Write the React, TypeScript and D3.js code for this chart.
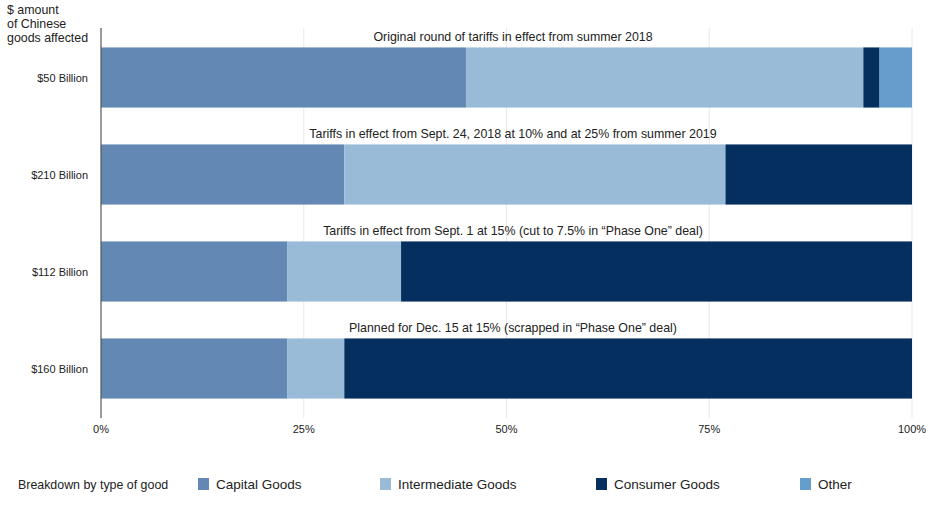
import React from "react";
import * as d3 from "d3";

const categories = ["$50 Billion", "$210 Billion", "$112 Billion", "$160 Billion"];
const rowTitles = [
  "Original round of tariffs in effect from summer 2018",
  "Tariffs in effect from Sept. 24, 2018 at 10% and at 25% from summer 2019",
  "Tariffs in effect from Sept. 1 at 15% (cut to 7.5% in \u201cPhase One\u201d deal)",
  "Planned for Dec. 15 at 15% (scrapped in \u201cPhase One\u201d deal)",
];
const seriesNames = ["Capital Goods", "Intermediate Goods", "Consumer Goods", "Other"];
const capitalGoods = [45, 30, 23, 23];
const intermediateGoods = [49, 47, 14, 7];
const consumerGoods = [2, 23, 63, 70];
const otherGoods = [4, 0, 0, 0];
const xTicks = [0, 25, 50, 75, 100];
const colors = ["#6388b4", "#99bbd8", "#052f5f", "#659dcd"];

const W = 941;
const H = 507;
const FONT = "'Liberation Sans', Arial, Helvetica, sans-serif";

export default function App() {
  const rows = categories.map((c, i) => ({
    cat: c,
    "Capital Goods": capitalGoods[i],
    "Intermediate Goods": intermediateGoods[i],
    "Consumer Goods": consumerGoods[i],
    Other: otherGoods[i],
  }));
  const stack = d3.stack<any>().keys(seriesNames)(rows);
  const x = d3.scaleLinear().domain([0, 100]).range([101, 912]);
  const y = d3
    .scaleBand<string>()
    .domain(categories)
    .range([29, 417])
    .paddingInner(0.38)
    .paddingOuter(0.19);
  const bw = y.bandwidth();
  const legendX = [198, 380, 596, 800];

  return (
    <svg
      width={W}
      height={H}
      style={{ position: "absolute", left: 0, top: 0, fontFamily: FONT }}
    >
      <rect x={0} y={0} width={W} height={H} fill="#fff" />
      {/* gridlines */}
      {xTicks.slice(1).map((t) => (
        <line key={t} x1={x(t)} x2={x(t)} y1={28} y2={418} stroke="#e8e8e8" strokeWidth={1} />
      ))}
      {/* bars */}
      {stack.map((s, si) =>
        s.map((d, i) => {
          const w = x(d[1]) - x(d[0]);
          if (w <= 0) return null;
          return (
            <rect
              key={si + "-" + i}
              x={x(d[0])}
              y={y(categories[i])!}
              width={w}
              height={bw}
              fill={colors[si]}
            />
          );
        })
      )}
      {/* axis line */}
      <line x1={x(0)} x2={x(0)} y1={28} y2={418} stroke="#555" strokeWidth={1.2} />
      {/* row titles */}
      {rowTitles.map((t, i) => (
        <text
          key={t}
          x={513}
          y={y(categories[i])! - 6}
          textAnchor="middle"
          fontSize={12.4}
          fill="#222"
        >
          {t}
        </text>
      ))}
      {/* category labels */}
      {categories.map((c) => (
        <text
          key={c}
          x={88}
          y={y(c)! + bw / 2 + 4}
          textAnchor="end"
          fontSize={11}
          fill="#222"
        >
          {c}
        </text>
      ))}
      {/* y title */}
      {["$ amount", "of Chinese", "goods affected"].map((l, i) => (
        <text key={l} x={7} y={14 + i * 14} fontSize={12.4} fill="#222">
          {l}
        </text>
      ))}
      {/* x tick labels */}
      {xTicks.map((t) => (
        <text key={t} x={x(t)} y={433} textAnchor="middle" fontSize={11} fill="#222">
          {t + "%"}
        </text>
      ))}
      {/* legend */}
      <text x={18} y={489} fontSize={12.4} fill="#222">
        Breakdown by type of good
      </text>
      {seriesNames.map((n, i) => (
        <g key={n}>
          <rect x={legendX[i]} y={478} width={11} height={12} fill={colors[i]} />
          <text x={legendX[i] + 18} y={489} fontSize={13.5} fill="#222">
            {n}
          </text>
        </g>
      ))}
    </svg>
  );
}
